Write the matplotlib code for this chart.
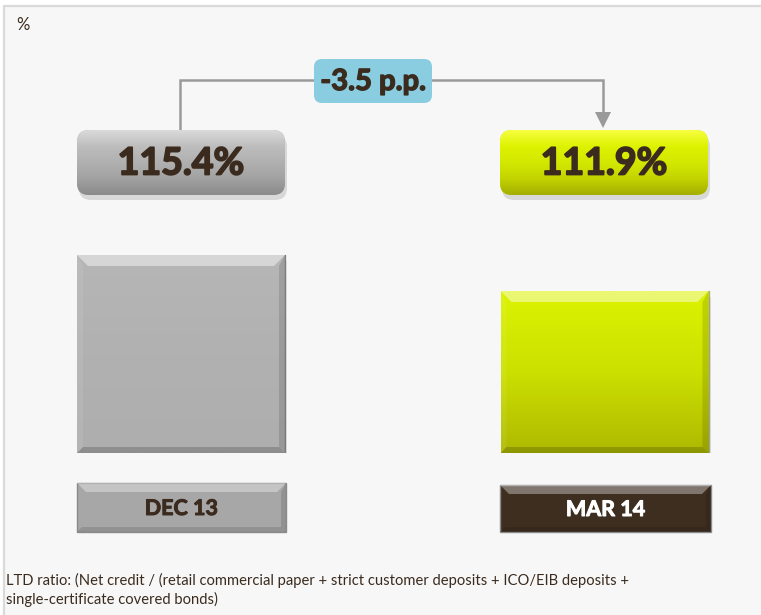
import numpy as np
import matplotlib
matplotlib.use('Agg')
import matplotlib.pyplot as plt
import matplotlib.patheffects as pe
from matplotlib.patches import FancyBboxPatch, Rectangle, Polygon
from matplotlib.colors import LinearSegmentedColormap

# data
periods = ['DEC 13', 'MAR 14']
ltd_ratio = [115.4, 111.9]
value_labels = ['115.4%', '111.9%']
change_label = '-3.5 p.p.'
footnote = ('LTD ratio: (Net credit / (retail commercial paper + strict customer deposits + ICO/EIB deposits +\n'
            'single-certificate covered bonds)')

plt.rcParams['font.family'] = ['Lato', 'DejaVu Sans']
TXT = '#3B2B1E'


def thick(lw, c):
    return [pe.withStroke(linewidth=lw, foreground=c)]


W, H = 761, 615
fig = plt.figure(figsize=(W / 100, H / 100), dpi=100)
fig.patch.set_facecolor('white')

# background panel (pixel coords, y down)
bg = fig.add_axes([0, 0, 1, 1])
bg.set_xlim(0, W)
bg.set_ylim(H, 0)
bg.axis('off')
bg.add_patch(Rectangle((4, 6), W - 4, H - 6, fc='#F7F7F7', ec='none'))
bg.plot([4, 4, W], [H, 6, 6], color='#DADADA', lw=1.6, solid_capstyle='butt')

# bar axes: baseline at pixel 453, truncated axis
ppu = 36 / 3.5          # pixels per percentage point
base = 115.4 - 198 / ppu
xpx = 423.5             # pixels per category step
ax = fig.add_axes([0, (H - 453) / H, 1, (453 - 6) / H])
ax.patch.set_alpha(0)
ax.axis('off')
ax.set_zorder(1)

bar_cols = ['#B2B2B2', '#D2E800']
grads = [
    ['#B6B6B6', '#B1B1B1', '#AEAEAE'],
    ['#DCF300', '#CCE000', '#AEB900'],
]
bars = ax.bar(range(len(periods)), [v - base for v in ltd_ratio], bottom=base,
              width=208 / xpx, color=bar_cols, edgecolor='none', zorder=2)

for b, g in zip(bars, grads):
    x0, y0 = b.get_x(), b.get_y()
    x1, y1 = x0 + b.get_width(), y0 + b.get_height()
    # soft shadow
    ax.add_patch(Rectangle((x0 + 2 / xpx, y0 - 6 / ppu), b.get_width(), b.get_height(),
                           fc='#000000', alpha=0.07, ec='none', zorder=1))
    cmap = LinearSegmentedColormap.from_list('g', g)
    im = ax.imshow(np.linspace(0, 1, 100).reshape(-1, 1), cmap=cmap, aspect='auto',
                   extent=(x0, x1, y0, y1), origin='upper', zorder=3)
    im.set_clip_path(b)
    # bevel: wide top, thin sides and bottom
    tx, ty = 11 / xpx, 11 / ppu
    sx, sy = 6 / xpx, 6 / ppu
    ax.add_patch(Polygon([(x0, y1), (x1, y1), (x1 - tx, y1 - ty), (x0 + tx, y1 - ty)],
                         fc='white', alpha=0.45, ec='none', zorder=4))
    ax.add_patch(Polygon([(x1, y1), (x1, y0), (x1 - sx, y0 + sy), (x1 - sx, y1 - ty)],
                         fc='black', alpha=0.12, ec='none', zorder=4))
    ax.add_patch(Polygon([(x0, y0), (x1, y0), (x1 - sx, y0 + sy), (x0 + sx, y0 + sy)],
                         fc='black', alpha=0.18, ec='none', zorder=4))
    ax.add_patch(Polygon([(x0, y0), (x0, y1), (x0 + sx, y1 - ty), (x0 + sx, y0 + sy)],
                         fc='white', alpha=0.08, ec='none', zorder=4))
    ax.plot([x1, x1], [y0, y1], color='black', alpha=0.3, lw=1, zorder=5)

ax.set_xlim(-181 / xpx, (W - 181) / xpx)
ax.set_ylim(base, base + 447 / ppu)

# overlay for annotations (pixel coords)
ov = fig.add_axes([0, 0, 1, 1])
ov.set_xlim(0, W)
ov.set_ylim(H, 0)
ov.axis('off')
ov.patch.set_alpha(0)
ov.set_zorder(2)

box_x = [77, 500]
box_grads = [
    ['#DADADA', '#BDBDBD', '#B0B0B0', '#A2A2A2', '#8A8A8A'],
    ['#F6FF40', '#DDF200', '#D3E800', '#C3D400', '#A3AE00'],
]
for i, lab in enumerate(value_labels):
    x0, y0, w, h = box_x[i], 130, 208, 65
    ov.add_patch(FancyBboxPatch((x0 + 2, y0 + 5), w, h, boxstyle='round,pad=0,rounding_size=12',
                                fc='black', alpha=0.12, ec='none', zorder=1))
    p = FancyBboxPatch((x0, y0), w, h, boxstyle='round,pad=0,rounding_size=12',
                       fc=box_grads[i][2], ec='none', zorder=2)
    ov.add_patch(p)
    cmap = LinearSegmentedColormap.from_list('b', box_grads[i])
    im = ov.imshow(np.linspace(0, 1, 100).reshape(-1, 1), cmap=cmap, aspect='auto',
                   extent=(x0, x0 + w, y0 + h, y0), origin='upper', zorder=3)
    im.set_clip_path(p)
    ov.text(x0 + w / 2, y0 + h / 2 + 1, lab, ha='center', va='center', fontsize=27,
            fontweight='bold', color=TXT, zorder=4, path_effects=thick(1.3, TXT))

# connector arrow
ov.plot([180, 180, 603, 603], [130, 80, 80, 114], color='#9A9A9A', lw=1.8, zorder=1,
        solid_joinstyle='miter')
ov.add_patch(Polygon([(595, 112), (611, 112), (603, 128)], fc='#9A9A9A', ec='none', zorder=1))

ov.add_patch(FancyBboxPatch((314, 59), 118, 44, boxstyle='round,pad=0,rounding_size=8',
                            fc='#8ACDE0', ec='none', zorder=3))
ov.text(373, 82, change_label, ha='center', va='center', fontsize=21, fontweight='bold',
        color=TXT, zorder=4, path_effects=thick(1.0, TXT))

# category boxes
cat_box = [(77, 483, 209, 49, '#A7A7A7', TXT), (500, 485, 211, 47, '#3E2E20', 'white')]
for (x0, y0, w, h, fc, tc), lab in zip(cat_box, periods):
    x1, y1 = x0 + w, y0 + h
    d = 9
    ov.add_patch(Rectangle((x0, y0), w, h, fc=fc, ec='#8A8A8A', lw=1, zorder=2))
    ov.add_patch(Polygon([(x0, y0), (x1, y0), (x1 - d, y0 + d), (x0 + d, y0 + d)],
                         fc='white', alpha=0.35, ec='none', zorder=3))
    ov.add_patch(Polygon([(x1, y0), (x1, y1), (x1 - 5, y1 - 5), (x1 - 5, y0 + d)],
                         fc='black', alpha=0.12, ec='none', zorder=3))
    ov.add_patch(Polygon([(x0, y1), (x1, y1), (x1 - 5, y1 - 5), (x0 + 5, y1 - 5)],
                         fc='black', alpha=0.12, ec='none', zorder=3))
    ov.text((x0 + x1) / 2, (y0 + y1) / 2 + 1, lab, ha='center', va='center', fontsize=15.5,
            fontweight='bold', color=tc, zorder=4, path_effects=thick(0.7, tc))

ov.text(16, 25, '%', ha='left', va='center', fontsize=12, color=TXT)
ov.text(6, 590, footnote, ha='left', va='center', fontsize=10.6, color=TXT, linespacing=1.4)

fig.savefig('out.png', dpi=100, facecolor='white')
